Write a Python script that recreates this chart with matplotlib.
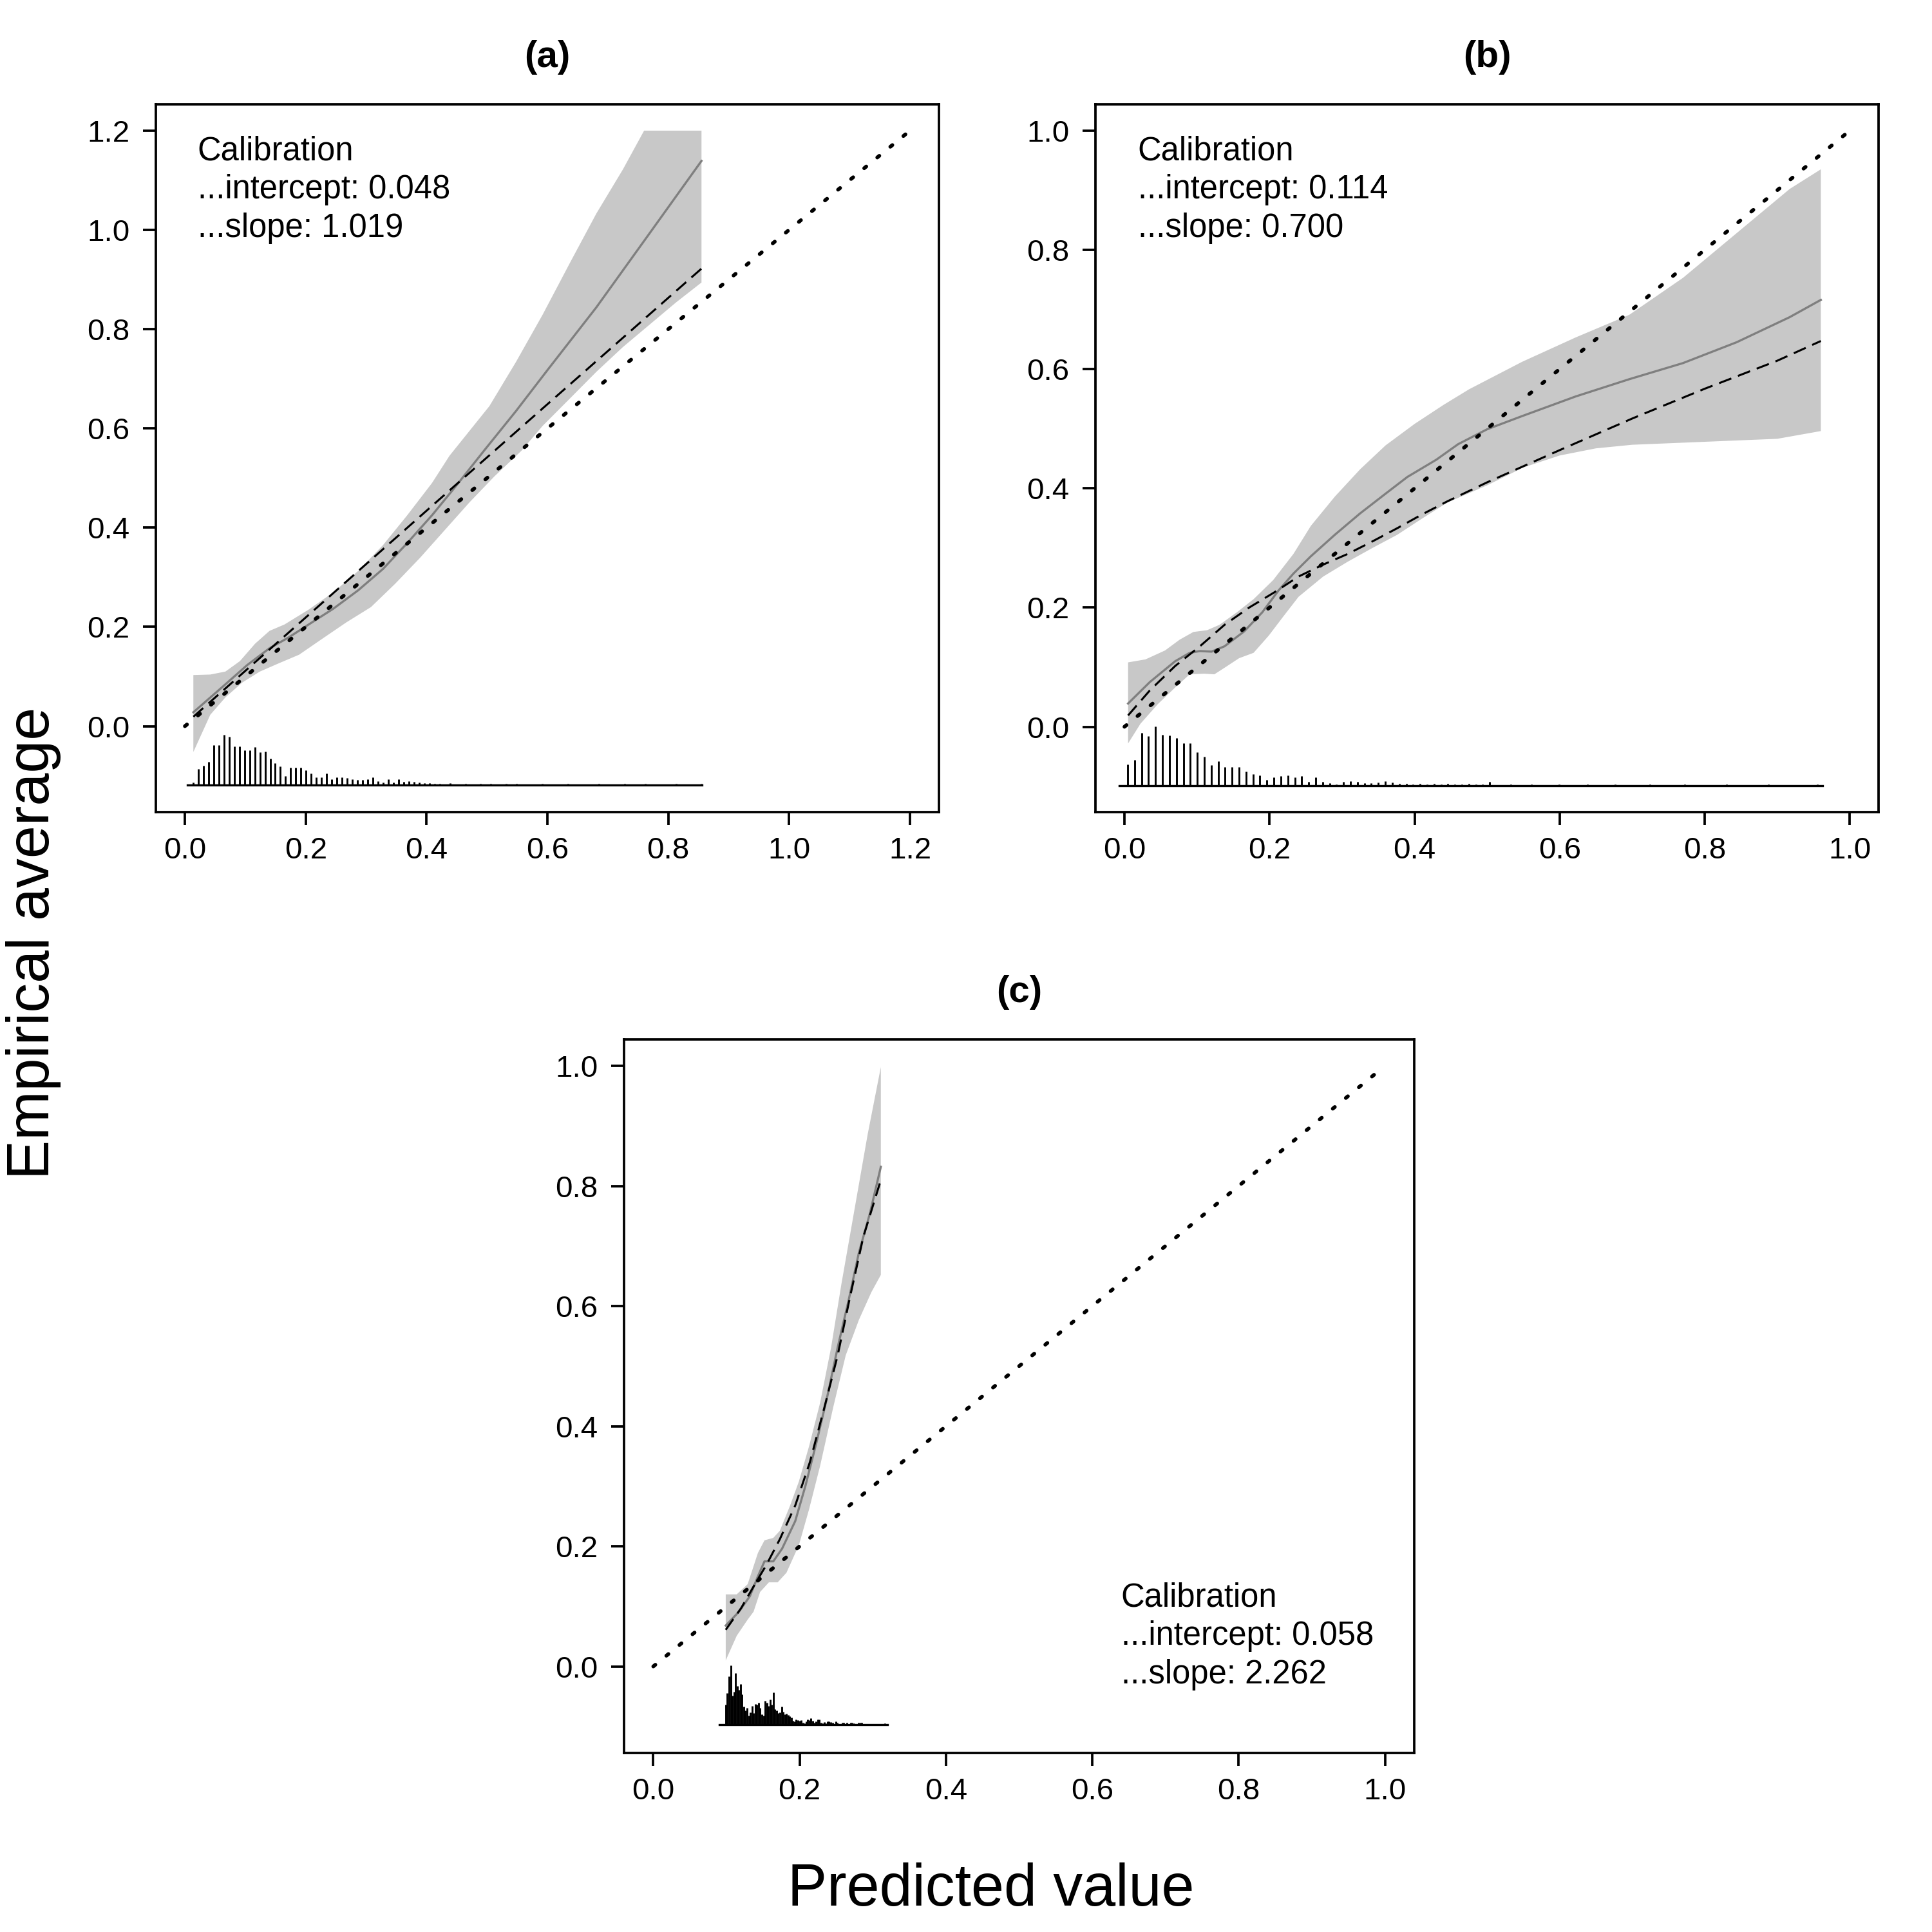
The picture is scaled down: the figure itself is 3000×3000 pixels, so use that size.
import numpy as np
import matplotlib
matplotlib.use("Agg")
import matplotlib.pyplot as plt
from matplotlib.ticker import FormatStrFormatter

plt.rcParams['font.family'] = ['Liberation Sans', 'DejaVu Sans']

# ---- panel (a) ----
a_line_x = [0.014, 0.063, 0.103, 0.14, 0.172, 0.205, 0.246, 0.287, 0.328, 0.368, 0.409, 0.45, 0.495, 0.548, 0.601, 0.681, 0.769, 0.855]
a_line_y = [0.028, 0.080, 0.123, 0.157, 0.179, 0.205, 0.237, 0.274, 0.317, 0.369, 0.425, 0.486, 0.555, 0.635, 0.719, 0.844, 0.993, 1.139]
a_up_x = [0.014, 0.042, 0.067, 0.091, 0.116, 0.14, 0.165, 0.205, 0.246, 0.287, 0.328, 0.368, 0.409, 0.438, 0.504, 0.548, 0.592, 0.637, 0.681, 0.725, 0.76, 0.855]
a_up_y = [0.103, 0.104, 0.110, 0.131, 0.166, 0.192, 0.205, 0.235, 0.270, 0.313, 0.365, 0.425, 0.490, 0.545, 0.645, 0.734, 0.829, 0.933, 1.033, 1.122, 1.2, 1.2]
a_lo_x = [0.014, 0.042, 0.067, 0.095, 0.124, 0.156, 0.189, 0.226, 0.267, 0.308, 0.348, 0.389, 0.43, 0.471, 0.512, 0.557, 0.592, 0.637, 0.681, 0.725, 0.769, 0.813, 0.855]
a_lo_y = [-0.052, 0.023, 0.058, 0.088, 0.110, 0.127, 0.144, 0.175, 0.209, 0.240, 0.287, 0.339, 0.395, 0.451, 0.503, 0.555, 0.605, 0.660, 0.714, 0.764, 0.809, 0.854, 0.894]
a_dash_x = [0.014, 0.45, 0.855]
a_dash_y = [0.019, 0.488, 0.922]
a_ideal = [0.0, 1.2]
a_spike_start, a_spike_step, a_base, a_base_x = 0.0136, 0.0085, -0.118, [0.004, 0.856]
a_spike_h = [0.004, 0.032, 0.038, 0.046, 0.080, 0.080, 0.100, 0.097, 0.077, 0.077,
             0.069, 0.069, 0.076, 0.065, 0.067, 0.052, 0.044, 0.037, 0.017, 0.034,
             0.034, 0.034, 0.029, 0.023, 0.015, 0.015, 0.023, 0.011, 0.015, 0.015,
             0.013, 0.011, 0.010, 0.010, 0.011, 0.015, 0.007, 0.004, 0.011, 0.004,
             0.011, 0.006, 0.007, 0.006, 0.004, 0.003, 0.003, 0.002, 0.002, 0.0,
             0.003, 0.0, 0.0, 0.002, 0.0, 0.0, 0.002, 0.0, 0.002, 0.0,
             0.0, 0.002, 0.0, 0.002, 0.0, 0.0, 0.0, 0.0, 0.002, 0.0,
             0.0, 0.0, 0.0, 0.002, 0.0, 0.0, 0.0, 0.0, 0.0, 0.002,
             0.0, 0.0, 0.0, 0.0, 0.002, 0.0, 0.0, 0.0, 0.002, 0.0,
             0.0, 0.0, 0.0, 0.0, 0.002, 0.0, 0.0, 0.0, 0.0, 0.002]
a_text = ["Calibration", "...intercept: 0.048", "...slope: 1.019"]

# ---- panel (b) ----
b_line_x = [0.005, 0.035, 0.07, 0.09, 0.104, 0.12, 0.138, 0.165, 0.19, 0.212, 0.233, 0.257, 0.29, 0.325, 0.36, 0.39, 0.43, 0.46, 0.50, 0.548, 0.622, 0.696, 0.77, 0.844, 0.917, 0.96]
b_line_y = [0.039, 0.075, 0.110, 0.124, 0.127, 0.126, 0.135, 0.160, 0.192, 0.228, 0.257, 0.286, 0.322, 0.358, 0.391, 0.419, 0.448, 0.474, 0.499, 0.521, 0.554, 0.583, 0.610, 0.645, 0.687, 0.716]
b_up_x = [0.005, 0.029, 0.056, 0.076, 0.095, 0.114, 0.131, 0.155, 0.178, 0.205, 0.233, 0.257, 0.29, 0.325, 0.36, 0.40, 0.44, 0.475, 0.548, 0.622, 0.696, 0.770, 0.844, 0.917, 0.96]
b_up_y = [0.108, 0.113, 0.128, 0.146, 0.159, 0.162, 0.171, 0.192, 0.214, 0.246, 0.290, 0.337, 0.386, 0.432, 0.472, 0.508, 0.540, 0.566, 0.612, 0.653, 0.691, 0.753, 0.828, 0.902, 0.935]
b_lo_x = [0.005, 0.022, 0.046, 0.07, 0.09, 0.11, 0.124, 0.138, 0.158, 0.178, 0.199, 0.219, 0.24, 0.274, 0.308, 0.342, 0.376, 0.41, 0.445, 0.50, 0.55, 0.60, 0.65, 0.70, 0.80, 0.90, 0.96]
b_lo_y = [-0.028, 0.005, 0.038, 0.066, 0.088, 0.089, 0.088, 0.099, 0.115, 0.124, 0.153, 0.185, 0.218, 0.252, 0.277, 0.300, 0.322, 0.349, 0.376, 0.405, 0.435, 0.455, 0.467, 0.473, 0.478, 0.483, 0.496]
b_dash_x = [0.005, 0.035, 0.07, 0.104, 0.138, 0.172, 0.206, 0.24, 0.274, 0.308, 0.342, 0.376, 0.41, 0.445, 0.50, 0.60, 0.70, 0.80, 0.90, 0.96]
b_dash_y = [0.019, 0.061, 0.102, 0.135, 0.171, 0.200, 0.225, 0.252, 0.272, 0.290, 0.311, 0.333, 0.356, 0.378, 0.410, 0.464, 0.517, 0.567, 0.614, 0.647]
b_ideal = [0.0, 1.0]
b_spike_start, b_spike_step, b_base, b_base_x = 0.0044, 0.0096, -0.099, [-0.007, 0.962]
b_spike_h = [0.036, 0.043, 0.089, 0.083, 0.100, 0.085, 0.084, 0.080, 0.072, 0.072,
             0.056, 0.049, 0.035, 0.041, 0.031, 0.031, 0.032, 0.024, 0.020, 0.017,
             0.010, 0.014, 0.016, 0.018, 0.014, 0.016, 0.007, 0.014, 0.007, 0.004,
             0.002, 0.007, 0.008, 0.007, 0.004, 0.004, 0.006, 0.008, 0.006, 0.003,
             0.003, 0.002, 0.003, 0.002, 0.003, 0.002, 0.003, 0.002, 0.002, 0.003,
             0.002, 0.002, 0.007, 0.0, 0.0, 0.002, 0.0, 0.0, 0.002, 0.0,
             0.0, 0.0, 0.002, 0.0, 0.0, 0.0, 0.002, 0.0, 0.0, 0.0,
             0.002, 0.0, 0.0, 0.0, 0.0, 0.002, 0.0, 0.0, 0.0, 0.0,
             0.002, 0.0, 0.0, 0.0, 0.0, 0.0, 0.002, 0.0, 0.0, 0.0,
             0.0, 0.0, 0.002, 0.0, 0.0, 0.0, 0.0, 0.0, 0.0, 0.002]
b_text = ["Calibration", "...intercept: 0.114", "...slope: 0.700"]

# ---- panel (c) ----
c_line_x = [0.099, 0.117, 0.132, 0.143, 0.152, 0.164, 0.176, 0.194, 0.208, 0.223, 0.237, 0.252, 0.267, 0.281, 0.296, 0.311]
c_line_y = [0.068, 0.091, 0.117, 0.150, 0.175, 0.175, 0.196, 0.242, 0.301, 0.373, 0.445, 0.531, 0.610, 0.689, 0.754, 0.832]
c_up_x = [0.099, 0.114, 0.129, 0.143, 0.152, 0.164, 0.173, 0.187, 0.199, 0.213, 0.228, 0.243, 0.257, 0.275, 0.293, 0.311]
c_up_y = [0.120, 0.120, 0.137, 0.189, 0.210, 0.214, 0.226, 0.268, 0.308, 0.367, 0.439, 0.531, 0.636, 0.761, 0.886, 0.998]
c_lo_x = [0.099, 0.114, 0.129, 0.137, 0.146, 0.158, 0.170, 0.182, 0.199, 0.213, 0.228, 0.246, 0.263, 0.281, 0.298, 0.311]
c_lo_y = [0.010, 0.051, 0.078, 0.091, 0.124, 0.140, 0.140, 0.156, 0.202, 0.262, 0.334, 0.432, 0.518, 0.577, 0.623, 0.652]
c_dash_x = [0.099, 0.120, 0.137, 0.155, 0.173, 0.194, 0.214, 0.234, 0.252, 0.269, 0.287, 0.311]
c_dash_y = [0.061, 0.097, 0.133, 0.170, 0.212, 0.268, 0.340, 0.432, 0.518, 0.616, 0.715, 0.810]
c_ideal = [0.0, 1.0]
c_spike_range, c_base, c_base_x = [0.099, 0.3165], -0.097, [0.090, 0.320]
c_spike_h = [0.033, 0.053, 0.080, 0.099, 0.048, 0.055, 0.086, 0.064, 0.058, 0.068,
             0.050, 0.030, 0.024, 0.028, 0.015, 0.020, 0.031, 0.019, 0.034, 0.033,
             0.036, 0.028, 0.017, 0.015, 0.040, 0.037, 0.031, 0.042, 0.033, 0.054,
             0.026, 0.024, 0.019, 0.020, 0.030, 0.021, 0.017, 0.018, 0.016, 0.014,
             0.012, 0.006, 0.005, 0.009, 0.008, 0.006, 0.008, 0.003, 0.002, 0.005,
             0.009, 0.008, 0.011, 0.006, 0.003, 0.005, 0.009, 0.009, 0.003, 0.002,
             0.004, 0.002, 0.005, 0.005, 0.004, 0.003, 0.001, 0.005, 0.003, 0.001,
             0.001, 0.003, 0.003, 0.0, 0.003, 0.0, 0.003, 0.003, 0.002, 0.0,
             0.0, 0.003, 0.003, 0.003, 0.0, 0.0, 0.0, 0.0, 0.0, 0.0,
             0.0, 0.0, 0.0, 0.0, 0.0, 0.0, 0.0, 0.002]
c_text = ["Calibration", "...intercept: 0.058", "...slope: 2.262"]

BAND = '#c8c8c8'
LINE_GRAY = '#7f7f7f'
TICK_FS = 11.4
TEXT_FS = 12.2


def draw_panel(ax, title, line, up, lo, dash, ideal, spikes_x, spikes_h, base, base_x,
               lims, ticks, text, text_xy):
    ux, uy = up
    lx, ly = lo
    ax.fill(np.r_[ux, lx[::-1]], np.r_[uy, ly[::-1]], color=BAND, lw=0, zorder=1)
    # spike histogram of predicted values
    ax.vlines(spikes_x, base, base + np.asarray(spikes_h), color='black', lw=0.7, zorder=2)
    ax.plot(base_x, [base, base], color='black', lw=0.8, zorder=2)
    ax.plot(line[0], line[1], color=LINE_GRAY, lw=0.8, zorder=3)
    ax.plot(dash[0], dash[1], color='black', lw=0.75, linestyle=(0, (6.5, 3.5)), zorder=4)
    ax.plot(ideal, ideal, color='black', lw=1.4, linestyle=(0, (0.7, 3.8)),
            dash_capstyle='round', zorder=5)

    ax.set_xlim(lims[0])
    ax.set_ylim(lims[1])
    ax.set_xticks(ticks)
    ax.set_yticks(ticks)
    ax.xaxis.set_major_formatter(FormatStrFormatter('%.1f'))
    ax.yaxis.set_major_formatter(FormatStrFormatter('%.1f'))
    ax.tick_params(direction='out', length=4.8, width=0.9, labelsize=TICK_FS,
                   top=False, right=False)
    ax.tick_params(axis='x', pad=4.3)
    ax.tick_params(axis='y', pad=5)
    for s in ax.spines.values():
        s.set_linewidth(0.9)

    ax.annotate(title, xy=(0.5, 1.0), xycoords='axes fraction', xytext=(0, 14),
                textcoords='offset points', ha='center', va='baseline',
                fontsize=14, fontweight='bold')
    tx, ty = text_xy
    step = 14.25 / 72 * fig.dpi / ax.bbox.height
    for i, s in enumerate(text):
        ax.text(tx, ty - i * step, s, transform=ax.transAxes,
                ha='left', va='baseline', fontsize=TEXT_FS)


fig = plt.figure(figsize=(10, 10), dpi=300)
ax_a = fig.add_axes([0.0807, 0.5797, 0.4053, 0.3663])
ax_b = fig.add_axes([0.567, 0.5797, 0.4055, 0.3663])
ax_c = fig.add_axes([0.323, 0.0927, 0.409, 0.3693])

a_sx = a_spike_start + a_spike_step * np.arange(len(a_spike_h))
b_sx = b_spike_start + b_spike_step * np.arange(len(b_spike_h))
c_sx = np.linspace(c_spike_range[0], c_spike_range[1], len(c_spike_h))

draw_panel(ax_a, '(a)', (a_line_x, a_line_y), (a_up_x, a_up_y), (a_lo_x, a_lo_y),
           (a_dash_x, a_dash_y), a_ideal, a_sx, a_spike_h, a_base, a_base_x,
           ((-0.048, 1.248), (-0.173, 1.253)), [0, 0.2, 0.4, 0.6, 0.8, 1.0, 1.2],
           a_text, (0.053, 0.921))
draw_panel(ax_b, '(b)', (b_line_x, b_line_y), (b_up_x, b_up_y), (b_lo_x, b_lo_y),
           (b_dash_x, b_dash_y), b_ideal, b_sx, b_spike_h, b_base, b_base_x,
           ((-0.04, 1.04), (-0.143, 1.044)), [0, 0.2, 0.4, 0.6, 0.8, 1.0],
           b_text, (0.054, 0.921))
draw_panel(ax_c, '(c)', (c_line_x, c_line_y), (c_up_x, c_up_y), (c_lo_x, c_lo_y),
           (c_dash_x, c_dash_y), c_ideal, c_sx, c_spike_h, c_base, c_base_x,
           ((-0.04, 1.04), (-0.144, 1.044)), [0, 0.2, 0.4, 0.6, 0.8, 1.0],
           c_text, (0.629, 0.205))

fig.text(0.513, 0.0137, 'Predicted value', ha='center', va='baseline', fontsize=22)
fig.text(0.0255, 0.512, 'Empirical average', ha='center', va='baseline', fontsize=22,
         rotation=90, rotation_mode='anchor')

fig.savefig('out.png', dpi=300)
